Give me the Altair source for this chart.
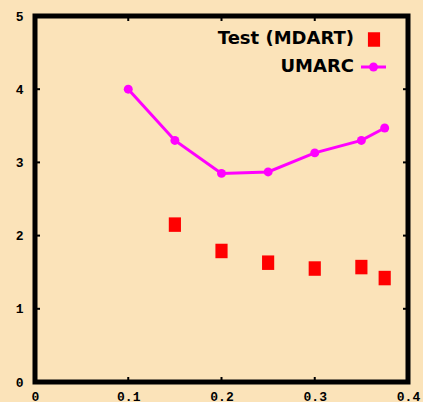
import altair as alt
import pandas as pd

umarc_x = [0.1, 0.15, 0.2, 0.25, 0.3, 0.35, 0.375]
umarc_y = [4.0, 3.30, 2.85, 2.87, 3.13, 3.30, 3.47]
test_x = [0.15, 0.2, 0.25, 0.3, 0.35, 0.375]
test_y = [2.15, 1.79, 1.63, 1.55, 1.57, 1.42]
x_ticks = [0, 0.1, 0.2, 0.3, 0.4]
y_ticks = [0, 1, 2, 3, 4, 5]
legend_labels = ["Test (MDART)", "UMARC"]

BG = "#FBE3B9"
W, H = 373, 366

umarc = pd.DataFrame({"x": umarc_x, "y": umarc_y})
test = pd.DataFrame({"x": test_x, "y": test_y})

xs = alt.Scale(domain=[0, 0.4], nice=False, zero=False)
ys = alt.Scale(domain=[0, 5], nice=False)
xax = alt.Axis(values=x_ticks, labelExpr="datum.value == 0 ? '0' : format(datum.value, '.1f')",
               grid=False, domain=False, ticks=False, labelFont="Liberation Mono", labelFontWeight="bold",
               labelFontSize=13, labelColor="black", labelPadding=8, labelFlush=False, title=None)
yax = alt.Axis(values=y_ticks, format="d", grid=False, domain=False, ticks=False, labelFont="Liberation Mono",
               labelFontWeight="bold", labelFontSize=13, labelColor="black", labelPadding=12,
               labelFlush=False, title=None)

line = alt.Chart(umarc).mark_line(color="#FF00FF", strokeWidth=3).encode(
    x=alt.X("x:Q", scale=xs, axis=xax), y=alt.Y("y:Q", scale=ys, axis=yax))
pts = alt.Chart(umarc).mark_point(filled=True, color="#FF00FF", opacity=1, size=80, shape="circle").encode(
    x=alt.X("x:Q", scale=xs), y=alt.Y("y:Q", scale=ys))
rect_shape = "M-0.84,-1L0.84,-1L0.84,1L-0.84,1Z"
sq = alt.Chart(test).mark_point(filled=True, color="#FF0000", opacity=1, size=210, shape=rect_shape).encode(
    x=alt.X("x:Q", scale=xs), y=alt.Y("y:Q", scale=ys))

# small inner ticks
xt = pd.DataFrame({"x": x_ticks[1:-1]})
yt = pd.DataFrame({"y": y_ticks[1:-1]})
tick_b = alt.Chart(xt).mark_rule(color="black", strokeWidth=2).encode(
    x=alt.X("x:Q", scale=xs), y=alt.value(H), y2=alt.value(H - 5))
tick_t = alt.Chart(xt).mark_rule(color="black", strokeWidth=2).encode(
    x=alt.X("x:Q", scale=xs), y=alt.value(0), y2=alt.value(5))
tick_l = alt.Chart(yt).mark_rule(color="black", strokeWidth=2).encode(
    y=alt.Y("y:Q", scale=ys), x=alt.value(0), x2=alt.value(5))
tick_r = alt.Chart(yt).mark_rule(color="black", strokeWidth=2).encode(
    y=alt.Y("y:Q", scale=ys), x=alt.value(W), x2=alt.value(W - 5))

leg = pd.DataFrame({"label": legend_labels})
txt_style = dict(align="right", baseline="middle", font="DejaVu Sans", fontWeight="bold",
                 fontSize=18, color="black")
leg_t1 = alt.Chart(leg.iloc[[0]]).mark_text(**txt_style).encode(
    text="label:N", x=alt.value(319), y=alt.value(23))
leg_t2 = alt.Chart(leg.iloc[[1]]).mark_text(**txt_style).encode(
    text="label:N", x=alt.value(319), y=alt.value(51))
leg_sq = alt.Chart(leg.iloc[[0]]).mark_point(filled=True, color="#FF0000", opacity=1, size=210,
                                            shape=rect_shape).encode(x=alt.value(339), y=alt.value(23.5))
leg_line = alt.Chart(leg.iloc[[1]]).mark_rule(color="#FF00FF", strokeWidth=3).encode(
    x=alt.value(326), x2=alt.value(351), y=alt.value(51))
leg_pt = alt.Chart(leg.iloc[[1]]).mark_point(filled=True, color="#FF00FF", opacity=1, size=80,
                                            shape="circle").encode(x=alt.value(338.5), y=alt.value(51))

chart = alt.layer(line, pts, sq, tick_b, tick_t, tick_l, tick_r,
                  leg_t1, leg_t2, leg_sq, leg_line, leg_pt).properties(
    width=W, height=H, background=BG,
    autosize=alt.AutoSizeParams(type="none"),
    padding={"left": 35, "top": 16, "right": 15, "bottom": 20},
).configure_view(stroke="black", strokeWidth=5, fill=BG)

chart.save("out.html", embed_options={"renderer": "svg", "actions": False})
